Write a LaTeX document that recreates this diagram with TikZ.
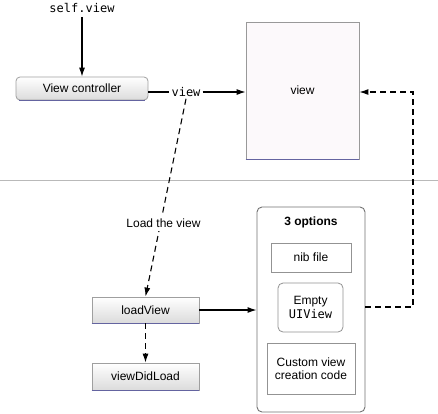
\documentclass[tikz,border=0pt]{standalone}
\usepackage{fontspec}
\setmainfont{Liberation Sans}
\setmonofont{DejaVu Sans Mono}
\usetikzlibrary{arrows.meta,positioning}
\begin{document}
\begin{tikzpicture}[x=1pt,y=-1pt,
  every node/.style={font=\fontsize{12}{13}\selectfont, inner sep=0pt},
  gbox/.style={draw=gray!75, line width=0.8pt, top color=white, bottom color=gray!28, minimum width=#1, align=center},
  pbox/.style={draw=gray!85, line width=0.8pt, fill=white, align=center},
  shadowline/.style={draw={rgb,255:red,100;green,100;blue,160}, line width=0.9pt},
  arr/.style={line width=1.1pt, -{Latex[length=9pt,width=6pt]}},
  plain/.style={line width=1.1pt},
  dsh/.style={line width=1.1pt, dash pattern=on 6pt off 4pt},
  mono/.style={font=\ttfamily\fontsize{12}{13}\selectfont}
]
\useasboundingbox (0,0) rectangle (438,413);
\fill[white] (0,0) rectangle (438,413);

% separator
\draw[gray!55, line width=1pt] (0,180) -- (438,180);

% top part
\node[mono, inner sep=2pt] (sv) at (82,8) {self.view};
\node[gbox=132pt, minimum height=23pt, rounded corners=4pt] (vc) at (82,88.5) {View controller};
\node[mono, fill=white, inner sep=2pt] (lbl) at (186,92) {view};
\node[draw=gray!80, line width=0.8pt, fill={rgb,255:red,252;green,249;blue,251}, minimum width=113pt, minimum height=137pt] (vb) at (302.5,90.5) {view};
\draw[shadowline] (vb.south west) -- (vb.south east);
\draw[shadowline] ([xshift=3pt]vc.south west) -- ([xshift=-3pt]vc.south east);

\draw[arr, shorten <=2pt] (sv.south) -- (vc.north);
\draw[plain] (vc.east |- lbl) -- (lbl.west);
\draw[arr] (lbl.east) -- (vb.west |- lbl);

% bottom part
\node[gbox=107pt, minimum height=26pt] (lv) at (145.5,310) {loadView};
\node[gbox=107pt, minimum height=27pt] (vdl) at (145.5,376.5) {viewDidLoad};
\draw[shadowline] (lv.south west) -- (lv.south east);
\draw[shadowline] (vdl.south west) -- (vdl.south east);

\draw[dsh, -{Latex[length=9pt,width=6pt]}] (lbl.south) -- node[pos=0.63, fill=white, inner sep=3pt, xshift=3pt] {Load the view} (lv.north);
\draw[dsh, -{Latex[length=9pt,width=6pt]}] (lv.south) -- (vdl.north);

\node[draw=gray!90!black, line width=0.9pt, rounded corners=5pt, fill=white, minimum width=108pt, minimum height=205pt] (opt) at (311,309.5) {};
\node[font=\bfseries\fontsize{12}{13}\selectfont] (ttl) at (311,222) {3 options};
\node[pbox, minimum width=80pt, minimum height=29pt] (nib) at (311,257.5) {nib file};
\node[pbox, rounded corners=5pt, minimum width=65pt, minimum height=49pt] (emp) at (310.5,307.5) {Empty\\[1pt]\texttt{UIView}};
\node[pbox, minimum width=88pt, minimum height=51pt] (cust) at (311,368.5) {Custom view\\creation code};

\draw[arr] (lv.east) -- (opt.west |- lv.east);

\coordinate (rt) at (413,0);
\draw[dsh, -{Latex[length=9pt,width=6pt]}] (opt.east |- 0,307) -- (rt |- 0,307) |- (vb.east |- lbl);
\end{tikzpicture}
\end{document}
